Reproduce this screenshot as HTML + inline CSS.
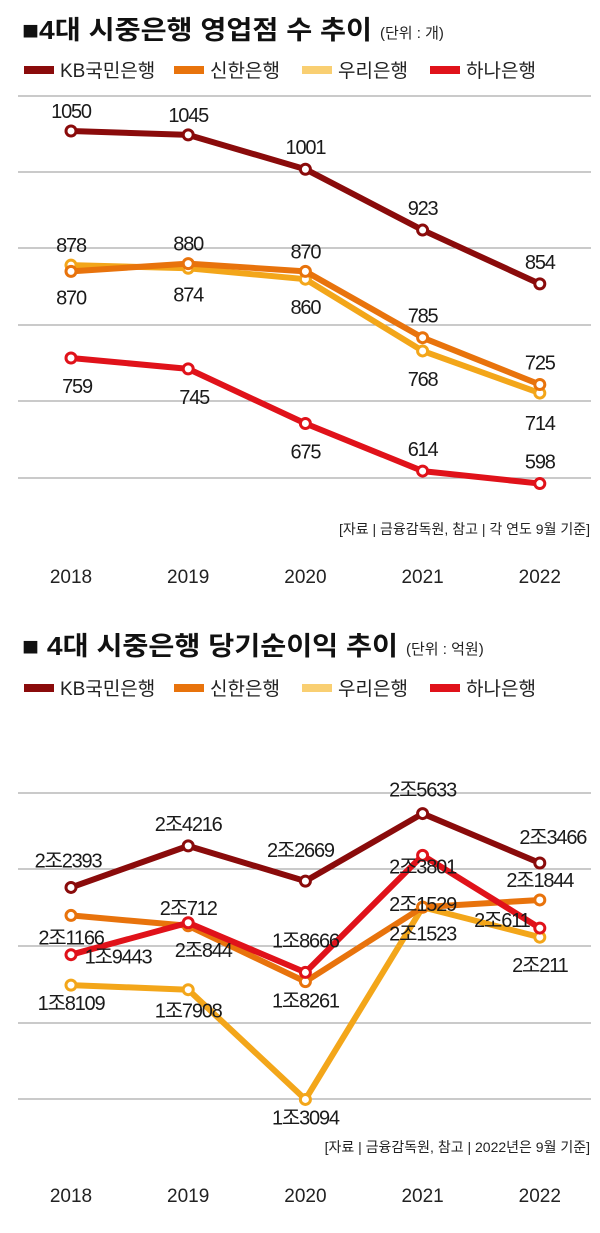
<!DOCTYPE html>
<html><head><meta charset="utf-8">
<style>
body{margin:0;background:#fff;width:600px;height:1233px;overflow:hidden}
svg{display:block;font-family:"Liberation Sans","Noto Sans CJK KR",sans-serif}
</style></head><body>
<svg id="s" width="600" height="1233" viewBox="0 0 600 1233">
<g>
<text x="22" y="39" font-size="26" font-weight="bold" fill="#111" textLength="350" lengthAdjust="spacingAndGlyphs">■4대 시중은행 영업점 수 추이</text>
<text x="380" y="38" font-size="15" fill="#222">(단위 : 개)</text>
</g>
<g>
<text x="22" y="655" font-size="26" font-weight="bold" fill="#111" textLength="376" lengthAdjust="spacingAndGlyphs">■ 4대 시중은행 당기순이익 추이</text>
<text x="406" y="654" font-size="15" fill="#222">(단위 : 억원)</text>
</g>
<g id="c1"></g>
<g id="c2"></g>
<text x="590" y="534" text-anchor="end" font-size="14" fill="#222">[자료 | 금융감독원, 참고 | 각 연도 9월 기준]</text>
<text x="590" y="1152" text-anchor="end" font-size="14" fill="#222">[자료 | 금융감독원, 참고 | 2022년은 9월 기준]</text>
</svg>
<script>
const years=["2018","2019","2020","2021","2022"];
const banks=["KB국민은행","신한은행","우리은행","하나은행"];
const branchKB=[1050,1045,1001,923,854];
const branchShinhan=[870,880,870,785,725];
const branchWoori=[878,874,860,768,714];
const branchHana=[759,745,675,614,598];
const incomeKB=[22393,24216,22669,25633,23466];
const incomeShinhan=[21166,20712,18261,21529,21844];
const incomeWoori=[18109,17908,13094,21523,20211];
const incomeHana=[19443,20844,18666,23801,20611];
const colors=["#8a0b0b","#e8730c","#f3a61a","#e0121a"];
const swatch=["#8a0b0b","#e8730c","#f9cf72","#e0121a"];
const NS="http://www.w3.org/2000/svg";
function mk(p,t,a){const e=document.createElementNS(NS,t);for(const k in a)e.setAttribute(k,a[k]);p.appendChild(e);return e;}
function xPos(i){return 71+i*117.2;}
function fmt2(v){const j=Math.floor(v/10000),r=v%10000;return j+"조"+r;}
const off1=[[[0,-20],[0,-20],[0,-22],[0,-22],[0,-22]],
 [[0,26],[0,-20],[0,-20],[0,-22],[0,-22]],
 [[0,-20],[0,26],[0,28],[0,28],[0,30]],
 [[6,28],[6,28],[0,28],[0,-22],[0,-22]]];
const off2=[[[-3,-27],[0,-22],[-5,-31],[0,-24],[13,-26]],
 [[0,22],[0,-18],[0,19],[0,-3],[0,-20]],
 [[0,18],[0,21],[0,18],[0,26],[0,28]],
 [[47,2],[15,27],[0,-32],[0,11],[-38,-8]]];
function chart(g,series,yOf,grid,legendY,yearY,off,fmt,nm){
 grid.forEach((gy,i)=>{const l=mk(g,"line",{x1:18,x2:591,y1:gy,y2:gy,stroke:"#aaa","stroke-width":1.2});
  
  });
 banks.forEach((b,k)=>{const lx=[24,174,302,430][k];
  const r=mk(g,"rect",{x:lx,y:legendY-4,width:30,height:8,fill:swatch[k]});
  
  
  const t=mk(g,"text",{x:lx+36,y:legendY+7,"font-size":19,fill:"#222"});t.textContent=b;
  
  });
 years.forEach((y,i)=>{const t=mk(g,"text",{x:xPos(i),y:yearY,"font-size":19,"text-anchor":"middle",fill:"#222"});t.textContent=y;
  
  });
 [2,1,3,0].forEach(k=>{const d=series[k];
  const pl=mk(g,"polyline",{points:d.map((v,i)=>xPos(i)+","+yOf(v)).join(" "),fill:"none",stroke:colors[k],"stroke-width":6,"stroke-linejoin":"round"});
  
  
  d.forEach((v,i)=>{const c=mk(g,"circle",{cx:xPos(i),cy:yOf(v),r:5,fill:"#fff",stroke:colors[k],"stroke-width":3});
   
   });});
 series.forEach((d,k)=>d.forEach((v,i)=>{const t=mk(g,"text",{x:xPos(i)+off[k][i][0],y:yOf(v)+off[k][i][1]+7,"font-size":20,"text-anchor":"middle",fill:"#1a1a1a","letter-spacing":"-1.2"});
  t.textContent=fmt(v);
  
  }));
}
chart(document.getElementById("c1"),[branchKB,branchShinhan,branchWoori,branchHana],v=>950-v*0.78,[96,172,248,325,401,478],70,583,off1,v=>String(v),"branch");
chart(document.getElementById("c2"),[incomeKB,incomeShinhan,incomeWoori,incomeHana],v=>1398-v*0.0228,[793,869,946,1023,1099],688,1202,off2,fmt2,"income");
</script>
</body></html>
